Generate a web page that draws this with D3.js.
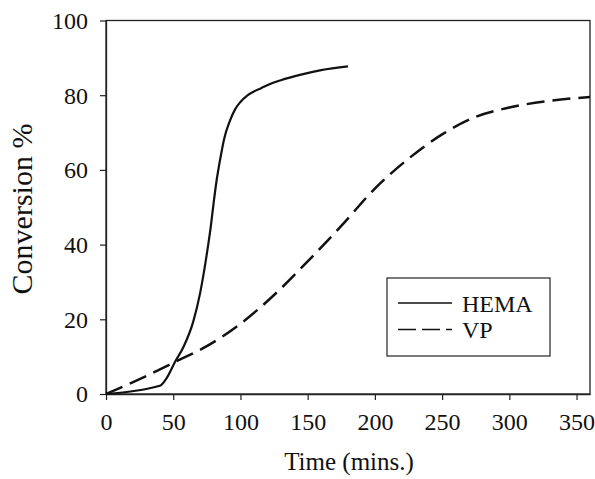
<!DOCTYPE html>
<html><head><meta charset="utf-8">
<script src="https://cdn.jsdelivr.net/npm/d3@7"></script>
<style>body{margin:0;background:#fff}svg{display:block}</style>
</head><body>
<svg id="c" width="595" height="479"></svg>
<script>
const hemaTime = [0, 40, 45, 51.5, 57.5, 65, 70, 75, 78, 80, 82, 85, 88, 92, 96, 100, 105, 110, 115, 122, 130, 145, 160, 180];
const hemaConv = [0, 2.2, 4.2, 8.7, 12.5, 19.5, 27, 37.5, 45, 51, 56.5, 63, 68.5, 73, 76.2, 78.2, 79.9, 81.0, 81.8, 83.0, 84.0, 85.5, 86.7, 87.7];
const vpTime = [0, 25, 52, 75, 100, 125, 150, 175, 200, 225, 250, 275, 300, 330, 360];
const vpConv = [0, 4, 8.7, 12.8, 18.8, 26.5, 35.5, 45, 55, 63, 69.5, 74.2, 76.7, 78.5, 79.5];
const xTicks = [0, 50, 100, 150, 200, 250, 300, 350];
const yTicks = [0, 20, 40, 60, 80, 100];
const seriesNames = ["HEMA", "VP"];

const svg = d3.select("#c");
const L = 106, T = 20.5, R = 590, B = 394;
const x = d3.scaleLinear().domain([0, 360]).range([L, R]);
const y = d3.scaleLinear().domain([0, 100]).range([B, T]);
const font = "'Liberation Serif','Times New Roman',serif";

svg.append("rect").attr("x", L).attr("y", T).attr("width", R - L).attr("height", B - T)
  .attr("fill", "none").attr("stroke", "#222").attr("stroke-width", 1.3);

const xa = svg.append("g").attr("transform", `translate(0,${B})`)
  .call(d3.axisBottom(x).tickValues(xTicks).tickSize(6).tickSizeOuter(0));
const ya = svg.append("g").attr("transform", `translate(${L},0)`)
  .call(d3.axisLeft(y).tickValues(yTicks).tickSize(6).tickPadding(12).tickSizeOuter(0));
[xa, ya].forEach(g => {
  g.select(".domain").attr("stroke", "#222").attr("stroke-width", 1.3);
  g.selectAll(".tick line").attr("stroke", "#222").attr("stroke-width", 1.2);
  g.selectAll(".tick text").attr("fill", "#111").style("font-family", font).style("font-size", "24px");
});
xa.selectAll(".tick text").attr("y", 36).attr("dy", 0);
ya.selectAll(".tick text").attr("dy", "0.33em");

svg.append("text").attr("x", 349).attr("y", 470).attr("text-anchor", "middle")
  .style("font-family", font).style("font-size", "25px").attr("fill", "#111").text("Time (mins.)");
svg.append("text").attr("transform", "translate(32,209) rotate(-90)").attr("text-anchor", "middle")
  .style("font-family", font).style("font-size", "30px").attr("fill", "#111").text("Conversion %");

const line = d3.line().x(d => x(d[0])).y(d => y(d[1])).curve(d3.curveMonotoneX);
const hema = hemaTime.map((t, i) => [t, hemaConv[i]]);
const vp = vpTime.map((t, i) => [t, vpConv[i]]);
svg.append("path").attr("d", line(hema)).attr("fill", "none").attr("stroke", "#111").attr("stroke-width", 2.2);
svg.append("path").attr("d", line(vp)).attr("fill", "none").attr("stroke", "#111").attr("stroke-width", 2.5)
  .attr("stroke-dasharray", "18,8");

const lg = svg.append("g");
lg.append("rect").attr("x", 387).attr("y", 278).attr("width", 163).attr("height", 78)
  .attr("fill", "#fff").attr("stroke", "#222").attr("stroke-width", 1.2);
const dashes = [null, "18,6"];
seriesNames.forEach((n, i) => {
  const yy = 303 + i * 26.5;
  lg.append("line").attr("x1", 398).attr("x2", 452).attr("y1", yy).attr("y2", yy)
    .attr("stroke", "#111").attr("stroke-width", 1.5).attr("stroke-dasharray", dashes[i]);
  lg.append("text").attr("x", 462).attr("y", yy + 8.5)
    .style("font-family", font).style("font-size", "24px").attr("fill", "#111").text(n);
});
</script>
</body></html>
